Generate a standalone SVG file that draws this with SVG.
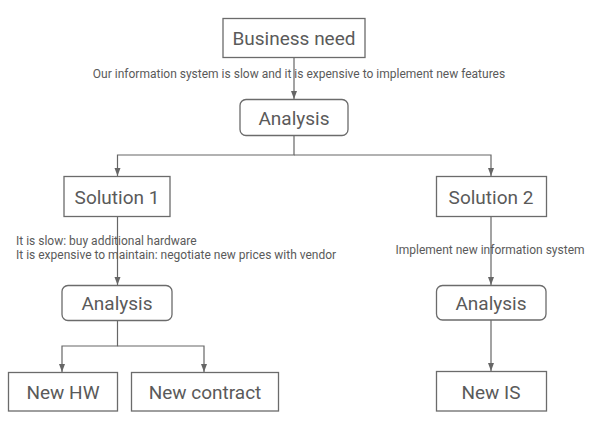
<svg xmlns="http://www.w3.org/2000/svg" width="605" height="437" viewBox="0 0 605 437">
<defs>
<marker id="arr" viewBox="0 0 8 8" refX="8" refY="4" markerWidth="8" markerHeight="8" markerUnits="userSpaceOnUse" orient="auto">
<path d="M0,1 L8,4 L0,7 Z" fill="#666"/>
</marker>
<style>
.box{fill:#fff;stroke:#6b6b6b;stroke-width:1.3}
.t{font-family:Roboto,"Liberation Sans",sans-serif;fill:#5a5a5a;text-anchor:middle;font-size:19px}
.s{font-family:Roboto,"Liberation Sans",sans-serif;fill:#5a5a5a;font-size:12px}
.c{fill:none;stroke:#666;stroke-width:1.2;marker-end:url(#arr)}
</style>
</defs>
<rect width="605" height="437" fill="#fff"/>
<g id="connectors">
<path class="c" d="M294,57 V99"/>
<path class="c" d="M294,136 V155 H117.5 V176"/>
<path class="c" d="M294,155 H491 V176"/>
<path class="c" d="M117.5,217 V285"/>
<path class="c" d="M491,217 V285"/>
<path class="c" d="M117.5,321 V346 H62 V372"/>
<path class="c" d="M117.5,346 H204 V372"/>
<path class="c" d="M491,320 V371"/>
</g>
<g id="labels">
<text class="s" x="299" y="78" text-anchor="middle">Our information system is slow and it is expensive to implement new features</text>
<text class="s" x="16" y="245">It is slow: buy additional hardware</text>
<text class="s" x="16" y="259">It is expensive to maintain: negotiate new prices with vendor</text>
<text class="s" x="490" y="254" text-anchor="middle">Implement new information system</text>
</g>
<g id="business-need"><rect class="box" x="223" y="18.5" width="142" height="39"/><text class="t" x="294" y="45" font-size="19.7">Business need</text></g>
<g id="analysis-top"><rect class="box" x="240" y="99.5" width="108" height="36" rx="6"/><text class="t" x="294" y="124.5">Analysis</text></g>
<g id="solution-1"><rect class="box" x="64" y="176.5" width="106" height="40"/><text class="t" x="117" y="203.5">Solution 1</text></g>
<g id="solution-2"><rect class="box" x="436.5" y="176.5" width="110" height="40"/><text class="t" x="491" y="203.5">Solution 2</text></g>
<g id="analysis-1"><rect class="box" x="62" y="285.5" width="110" height="35" rx="6"/><text class="t" x="117" y="310">Analysis</text></g>
<g id="analysis-2"><rect class="box" x="436.5" y="285.5" width="109.5" height="34.5" rx="6"/><text class="t" x="491" y="310">Analysis</text></g>
<g id="new-hw"><rect class="box" x="8.5" y="372.5" width="109" height="38.5"/><text class="t" x="63" y="398.5">New HW</text></g>
<g id="new-contract"><rect class="box" x="131.5" y="372.5" width="147" height="38.5"/><text class="t" x="205" y="398.5">New contract</text></g>
<g id="new-is"><rect class="box" x="436.5" y="371.5" width="110" height="39.5"/><text class="t" x="491" y="398.5">New IS</text></g>
</svg>
